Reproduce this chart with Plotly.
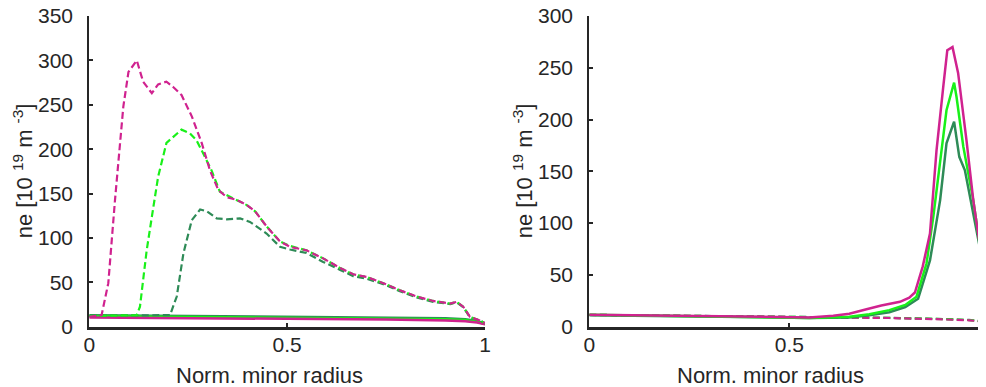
import plotly.graph_objects as go

# ---------------- data ----------------
# Left panel: solid lines (nearly flat)
L_solid_x = [0.0, 0.25, 0.5, 0.75, 0.9, 0.95, 0.98, 1.0]
L_solid_dkgreen = [13.0, 12.0, 11.0, 10.3, 9.5, 8.5, 6.5, 3.5]
L_solid_green = [12.0, 11.2, 10.2, 9.4, 8.5, 7.5, 5.5, 3.0]
L_solid_magenta = [10.5, 9.8, 9.0, 8.0, 7.0, 6.2, 4.8, 2.8]

# Left panel: dashed lines
L_dash_magenta_x = [0.0, 0.031, 0.048, 0.065, 0.086, 0.099, 0.120, 0.136, 0.158, 0.174, 0.195, 0.212,
                    0.233, 0.259, 0.284, 0.305, 0.326, 0.347, 0.372, 0.398, 0.419, 0.448, 0.482,
                    0.507, 0.549, 0.591, 0.634, 0.667, 0.701, 0.743, 0.785, 0.827, 0.869, 0.912,
                    0.928, 0.945, 0.962, 0.987, 1.0]
L_dash_magenta_y = [11.0, 13, 49, 143, 248, 287, 300, 276, 263, 273, 276, 270,
                    261, 237, 207, 176, 154, 146, 143, 137, 130, 113, 96,
                    90, 86, 77, 66, 59, 56, 49, 41, 34, 29, 26,
                    28, 22.5, 11, 7, 4]

L_dash_green_x = [0.0, 0.12, 0.128, 0.145, 0.162, 0.174, 0.195, 0.212, 0.233, 0.254, 0.271, 0.288,
                  0.309, 0.330, 0.356, 0.372, 0.398, 0.419, 0.448, 0.482, 0.507, 0.549, 0.591,
                  0.634, 0.667, 0.701, 0.743, 0.785, 0.827, 0.869, 0.912, 0.928, 0.945, 0.962,
                  0.987, 1.0]
L_dash_green_y = [12.0, 13, 22.5, 86, 135, 169, 207, 214, 222, 218, 210, 195,
                  176, 152, 146, 143, 137, 130, 113, 96, 91, 86, 77,
                  66, 59, 56, 49, 41, 34, 29, 26, 28, 22.5, 11,
                  7, 4]

L_dash_dkgreen_x = [0.0, 0.204, 0.221, 0.238, 0.259, 0.280, 0.297, 0.322, 0.347, 0.381, 0.406,
                    0.448, 0.482, 0.507, 0.549, 0.591, 0.634, 0.667, 0.701, 0.743, 0.785, 0.827,
                    0.869, 0.912, 0.928, 0.945, 0.962, 0.987, 1.0]
L_dash_dkgreen_y = [12.5, 13, 34, 83, 120, 132, 130, 122, 121, 122, 118,
                    105, 90, 87, 83, 73, 64, 57, 54, 48, 40, 33,
                    28, 25.5, 27.5, 22, 10.5, 7, 4]

# Right panel: solid lines (edge peak)
R_magenta_x = [0.0, 0.2, 0.4, 0.55, 0.61, 0.65, 0.693, 0.73, 0.7766, 0.80, 0.814, 0.8335, 0.8517,
               0.868, 0.885, 0.895, 0.908, 0.922, 0.943, 0.96, 0.977, 0.99, 1.0]
R_magenta_y = [11.5, 10.5, 9.5, 9.0, 10.5, 12.5, 16.8, 20.5, 24, 28, 33, 58, 90,
               170, 232, 267, 270, 245, 180, 122, 77, 45, 30]

R_green_x = [0.0, 0.2, 0.4, 0.55, 0.65, 0.7, 0.75, 0.79, 0.818, 0.843, 0.86, 0.877, 0.893,
             0.912, 0.918, 0.935, 0.96, 0.977, 0.99, 1.0]
R_green_y = [11.5, 10.5, 9.5, 8.5, 9.5, 12, 16, 21, 29, 61, 106, 161, 209,
             235.6, 222, 174, 122, 77, 45, 30]

R_dkgreen_x = [0.0, 0.2, 0.4, 0.55, 0.65, 0.7, 0.75, 0.79, 0.822, 0.8517, 0.877, 0.893, 0.912,
               0.925, 0.939, 0.96, 0.977, 0.99, 1.0]
R_dkgreen_y = [11.0, 10.0, 9.0, 8.5, 9.0, 11, 14, 19, 27, 64, 122, 177, 198,
               164, 151, 110, 75, 44, 30]

# Right panel: dashed lines (flat)
R_dash_x = [0.0, 0.25, 0.5, 0.61, 0.75, 0.89, 0.95, 0.99, 1.0]
R_dash_dkgreen = [11.5, 10.5, 9.6, 9.4, 8.6, 7.4, 6.5, 4.8, 4.2]
R_dash_green = [11.5, 10.4, 9.5, 9.3, 8.5, 7.3, 6.4, 4.8, 4.2]
R_dash_magenta = [11.3, 10.3, 9.4, 9.2, 8.4, 7.0, 6.2, 4.8, 4.2]

x_ticks = [0, 0.5, 1]
x_ticklabels = ["0", "0.5", "1"]
yL_ticks = [0, 50, 100, 150, 200, 250, 300, 350]
yR_ticks = [0, 50, 100, 150, 200, 250, 300]
x_title = "Norm. minor radius"
y_title = "ne [10 <sup>19</sup> m <sup>-3</sup>]"

# ---------------- styling ----------------
MAGENTA = "#d0228f"
GREEN = "#19f019"
DKGREEN = "#2e8b57"
AXC = "#262626"
FONT = "Liberation Sans, Arial, sans-serif"
DASH = "7px,3.5px"
PAGE_W, PAGE_H = 986, 387
OFF = 8  # default page (body) margin around the plot div
W = PAGE_W - OFF
H = PAGE_H - OFF
TICK_SIZE = 21
TITLE_SIZE = 22

fig = go.Figure()


def add(x, y, color, dash, xa, ya, width=2.2):
    fig.add_trace(go.Scatter(x=x, y=y, mode="lines", xaxis=xa, yaxis=ya,
                             line=dict(color=color, width=width, dash=dash),
                             showlegend=False, hoverinfo="skip"))


# left panel
add(L_solid_x, L_solid_dkgreen, DKGREEN, "solid", "x", "y", 2.5)
add(L_solid_x, L_solid_green, GREEN, "solid", "x", "y", 2.5)
add(L_solid_x, L_solid_magenta, MAGENTA, "solid", "x", "y", 2.5)
add(L_dash_dkgreen_x, L_dash_dkgreen_y, DKGREEN, DASH, "x", "y")
add(L_dash_green_x, L_dash_green_y, GREEN, DASH, "x", "y")
add(L_dash_magenta_x, L_dash_magenta_y, MAGENTA, DASH, "x", "y")

# right panel
add(R_dash_x, R_dash_dkgreen, DKGREEN, DASH, "x2", "y2")
add(R_dash_x, R_dash_green, GREEN, DASH, "x2", "y2")
add(R_dash_x, R_dash_magenta, MAGENTA, DASH, "x2", "y2")
add(R_dkgreen_x, R_dkgreen_y, DKGREEN, "solid", "x2", "y2", 2.5)
add(R_green_x, R_green_y, GREEN, "solid", "x2", "y2", 2.5)
add(R_magenta_x, R_magenta_y, MAGENTA, "solid", "x2", "y2", 2.5)


# pixel geometry (page pixels -> figure pixels)
def px(p):
    return p - OFF


L_x0, L_x1 = px(89.3), px(485.0)
R_x0 = px(589.3)
R_px_per_unit = 400.0
y_top, y_bot = px(16.0), px(326.7)
ydom = [(H - y_bot) / H, (H - y_top) / H]
R_xmax = (W - R_x0) / R_px_per_unit

axis_common = dict(showline=True, linecolor=AXC, mirror=False,
                   showgrid=False, zeroline=False, ticks="inside", ticklen=4,
                   tickwidth=1.5, tickcolor=AXC, automargin=False, ticklabeloverflow="allow",
                   tickfont=dict(family=FONT, size=TICK_SIZE, color=AXC))

fig.update_layout(
    width=W, height=H,
    margin=dict(l=0, r=0, t=0, b=0, pad=0),
    paper_bgcolor="white", plot_bgcolor="white",
    font=dict(family=FONT, color=AXC),
    xaxis=dict(domain=[L_x0 / W, L_x1 / W], range=[0, 1], tickvals=x_ticks, linewidth=3,
               ticktext=x_ticklabels, anchor="y", ticklabelstandoff=-3, **axis_common),
    yaxis=dict(domain=ydom, range=[0, 350], tickvals=yL_ticks, anchor="x", linewidth=2.2,
               ticklabelstandoff=10, **axis_common),
    xaxis2=dict(domain=[R_x0 / W, 1.0], range=[0, R_xmax], tickvals=x_ticks[:2], linewidth=3,
                ticktext=x_ticklabels[:2], anchor="y2", ticklabelstandoff=-3, **axis_common),
    yaxis2=dict(domain=ydom, range=[0, 300], tickvals=yR_ticks, anchor="x2", linewidth=2.2,
                ticklabelstandoff=10, **axis_common),
)

ymid = (ydom[0] + ydom[1]) / 2
title_font = dict(family=FONT, size=TITLE_SIZE, color=AXC)
# x-axis titles (placed as in the reference, slightly left of the axis centre)
for cx in (px(269.0), px(770.0)):
    fig.add_annotation(x=cx / W, y=(H - px(375.0)) / H, xref="paper", yref="paper", text=x_title,
                       showarrow=False, xanchor="center", yanchor="middle", font=title_font)
# y-axis titles
for cx in (px(23.0), px(523.0)):
    fig.add_annotation(x=cx / W, y=ymid, xref="paper", yref="paper", text=y_title, textangle=-90,
                       showarrow=False, xanchor="center", yanchor="middle", font=title_font)

# partially visible "1" tick label of the right panel (cut at the window edge)
fig.add_annotation(x=(R_x0 + R_px_per_unit * x_ticks[2]) / W, y=ydom[0], xref="paper", yref="paper",
                   text=x_ticklabels[2], showarrow=False, yanchor="top", xanchor="center", yshift=-8,
                   font=dict(family=FONT, size=TICK_SIZE, color=AXC))

fig.write_html("out.html")
